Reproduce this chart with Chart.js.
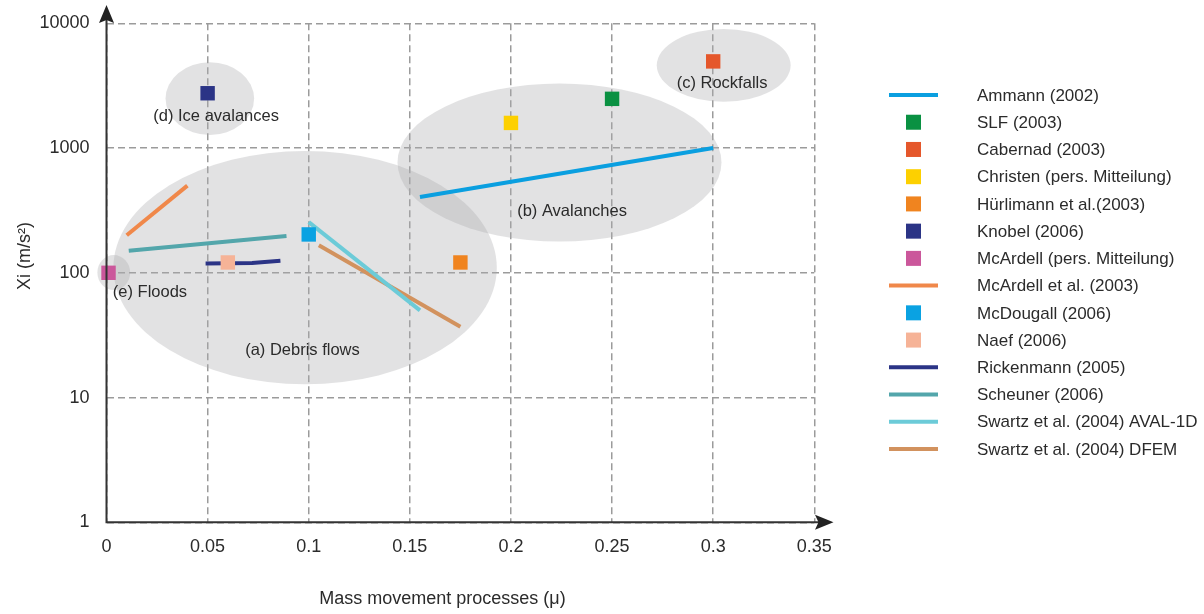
<!DOCTYPE html>
<html>
<head>
<meta charset="utf-8">
<script src="https://cdn.jsdelivr.net/npm/chart.js@4.4.1/dist/chart.umd.min.js"></script>
<style>
  html, body { margin: 0; padding: 0; background: #ffffff; }
  #wrap { width: 1204px; height: 614px; }
</style>
</head>
<body>
<div id="wrap"><canvas id="chart" width="1204" height="614"></canvas></div>
<script>
// ---- axis ticks ----
const muTicks = [0, 0.05, 0.1, 0.15, 0.2, 0.25, 0.3, 0.35];
const muTickLabels = ['0', '0.05', '0.1', '0.15', '0.2', '0.25', '0.3', '0.35'];
const xiTicks = [1, 10, 100, 1000, 10000];
const xiTickLabels = ['1', '10', '100', '1000', '10000'];

// ---- series: friction μ and turbulence coefficient Xi (m/s²) ----
const ammannMu = [0.155, 0.30],          ammannXi = [405, 1000];
const slfMu = [0.25],                    slfXi = [2480];
const cabernadMu = [0.30],               cabernadXi = [4950];
const christenMu = [0.20],               christenXi = [1590];
const huerlimannMu = [0.175],            huerlimannXi = [121];
const knobelMu = [0.05],                 knobelXi = [2750];
const mcardellPersMu = [0.001],          mcardellPersXi = [100];
const mcardellMu = [0.01, 0.04],         mcardellXi = [200, 500];
const mcdougallMu = [0.10],              mcdougallXi = [203];
const naefMu = [0.06],                   naefXi = [121];
const rickenmannMu = [0.049, 0.072, 0.086], rickenmannXi = [119, 120, 125];
const scheunerMu = [0.011, 0.089],       scheunerXi = [150, 197];
const swartzAvalMu = [0.10, 0.155],      swartzAvalXi = [255, 50];
const swartzDfemMu = [0.105, 0.175],     swartzDfemXi = [166, 37];

// ---- process domains (centre, half extent in μ and in decades of Xi) ----
const regionNames = ['(a) Debris flows', '(b) Avalanches', '(c) Rockfalls', '(d) Ice avalances', '(e) Floods'];
const regionMu = [0.0982, 0.224, 0.3052, 0.0511, 0.0036];
const regionXi = [110, 766, 4600, 2490, 100.5];
const regionHalfMu = [0.0948, 0.0801, 0.0331, 0.0219, 0.0081];
const regionHalfDecades = [0.935, 0.633, 0.291, 0.291, 0.14];
const regionLabelMu = [0.0969, 0.2302, 0.3044, 0.0542, 0.0215];
const regionLabelXi = [24, 309, 3305, 1807, 69.8];

const FONT = "'Liberation Sans', Arial, Helvetica, sans-serif";
const TEXT = '#2b2b2b';

const pts = (mu, xi) => mu.map((m, i) => ({ x: m, y: xi[i] }));
const lineSet = (label, mu, xi, color) => ({
  label, data: pts(mu, xi), showLine: true, borderColor: color, backgroundColor: color,
  borderWidth: 4, pointRadius: 0, pointHoverRadius: 0, borderCapStyle: 'butt', clip: false
});
const markSet = (label, mu, xi, color) => ({
  label, data: pts(mu, xi), showLine: false, pointStyle: 'rect', pointRadius: 10.2,
  pointHoverRadius: 10.2, borderWidth: 0, pointBorderWidth: 0,
  backgroundColor: color, borderColor: color, clip: false
});

const datasets = [
  lineSet('Ammann (2002)', ammannMu, ammannXi, '#0a9fe0'),
  markSet('SLF (2003)', slfMu, slfXi, '#0a9142'),
  markSet('Cabernad (2003)', cabernadMu, cabernadXi, '#e5572b'),
  markSet('Christen (pers. Mitteilung)', christenMu, christenXi, '#fdd000'),
  markSet('Hürlimann et al.(2003)', huerlimannMu, huerlimannXi, '#f0841f'),
  markSet('Knobel (2006)', knobelMu, knobelXi, '#2b3486'),
  markSet('McArdell (pers. Mitteilung)', mcardellPersMu, mcardellPersXi, '#cb579b'),
  lineSet('McArdell et al. (2003)', mcardellMu, mcardellXi, '#f0884a'),
  markSet('McDougall (2006)', mcdougallMu, mcdougallXi, '#0aa2e2'),
  markSet('Naef (2006)', naefMu, naefXi, '#f6b397'),
  lineSet('Rickenmann (2005)', rickenmannMu, rickenmannXi, '#2b3486'),
  lineSet('Scheuner (2006)', scheunerMu, scheunerXi, '#53a6ab'),
  lineSet('Swartz et al. (2004) AVAL-1D', swartzAvalMu, swartzAvalXi, '#6ccbd8'),
  lineSet('Swartz et al. (2004) DFEM', swartzDfemMu, swartzDfemXi, '#d2925e')
];

// domains, axis arrows, axis titles and the key
const decor = {
  id: 'decor',
  beforeDatasetsDraw(chart) {
    const { ctx, scales: { x, y } } = chart;
    ctx.save();
    ctx.fillStyle = 'rgba(171,173,176,0.35)';
    regionMu.forEach((m, i) => {
      const cx = x.getPixelForValue(m);
      const cy = y.getPixelForValue(regionXi[i]);
      const rx = x.getPixelForValue(m + regionHalfMu[i]) - cx;
      const ry = cy - y.getPixelForValue(regionXi[i] * Math.pow(10, regionHalfDecades[i]));
      ctx.beginPath();
      ctx.ellipse(cx, cy, rx, ry, 0, 0, Math.PI * 2);
      ctx.fill();
    });
    ctx.fillStyle = TEXT;
    ctx.font = '16.5px ' + FONT;
    ctx.textAlign = 'center';
    ctx.textBaseline = 'middle';
    regionNames.forEach((n, i) => {
      ctx.fillText(n, x.getPixelForValue(regionLabelMu[i]), y.getPixelForValue(regionLabelXi[i]));
    });
    ctx.restore();
  },
  afterDraw(chart) {
    const { ctx, chartArea: a } = chart;
    ctx.save();
    // axes with arrow heads
    ctx.strokeStyle = '#333333';
    ctx.fillStyle = '#222222';
    ctx.lineWidth = 2;
    ctx.beginPath();
    ctx.moveTo(a.left, a.bottom);
    ctx.lineTo(a.left, 14);
    ctx.moveTo(a.left - 1, a.bottom);
    ctx.lineTo(826, a.bottom);
    ctx.stroke();
    ctx.beginPath();
    ctx.moveTo(a.left, 5);
    ctx.lineTo(a.left + 7.5, 23);
    ctx.lineTo(a.left, 20);
    ctx.lineTo(a.left - 7.5, 23);
    ctx.closePath();
    ctx.fill();
    ctx.beginPath();
    ctx.moveTo(833.5, a.bottom);
    ctx.lineTo(815, a.bottom - 7.5);
    ctx.lineTo(818.5, a.bottom);
    ctx.lineTo(815, a.bottom + 7.5);
    ctx.closePath();
    ctx.fill();

    // axis titles
    ctx.fillStyle = TEXT;
    ctx.font = '18px ' + FONT;
    ctx.textAlign = 'center';
    ctx.textBaseline = 'middle';
    ctx.fillText('Mass movement processes (\u03bc)', 442.5, 599);
    ctx.save();
    ctx.translate(25, 256);
    ctx.rotate(-Math.PI / 2);
    ctx.fillText('Xi (m/s\u00b2)', 0, 0);
    ctx.restore();

    // key
    ctx.font = '17px ' + FONT;
    ctx.textAlign = 'left';
    chart.data.datasets.forEach((ds, i) => {
      const yy = 95 + i * 27.23;
      if (ds.showLine) {
        ctx.strokeStyle = ds.borderColor;
        ctx.lineWidth = 4;
        ctx.lineCap = 'butt';
        ctx.beginPath();
        ctx.moveTo(889, yy);
        ctx.lineTo(938, yy);
        ctx.stroke();
      } else {
        ctx.fillStyle = ds.backgroundColor;
        ctx.fillRect(906, yy - 7.5, 15, 15);
      }
      ctx.fillStyle = TEXT;
      ctx.fillText(ds.label, 977, yy + 1);
    });
    ctx.restore();
  }
};

// grid lines across the plot; invisible tick marks only space the labels
const gridStyle = (gap) => ({
  color: '#9b9b9b', lineWidth: 1.5, drawTicks: true, tickLength: gap,
  tickWidth: 0, tickColor: 'rgba(0,0,0,0)'
});

new Chart(document.getElementById('chart'), {
  type: 'scatter',
  data: { datasets },
  options: {
    responsive: false,
    animation: false,
    events: [],
    layout: { padding: { left: 0, top: 23.3, right: 389.7, bottom: 0 } },
    plugins: { legend: { display: false }, tooltip: { enabled: false } },
    scales: {
      x: {
        type: 'linear', min: 0, max: 0.35,
        afterBuildTicks: s => { s.ticks = muTicks.map(v => ({ value: v })); },
        afterFit: s => { s.height = 614 - 522.3; },
        ticks: {
          callback: (v, i) => muTickLabels[i], autoSkip: false, maxRotation: 0,
          font: { family: FONT, size: 18 }, color: TEXT, padding: 0
        },
        grid: gridStyle(14),
        border: { display: false, dash: [7, 4] }
      },
      y: {
        type: 'logarithmic', min: 1, max: 10000,
        afterBuildTicks: s => { s.ticks = xiTicks.map(v => ({ value: v })); },
        afterFit: s => { s.width = 106.5; },
        ticks: {
          callback: (v, i) => xiTickLabels[i], autoSkip: false,
          font: { family: FONT, size: 18 }, color: TEXT, padding: 0
        },
        grid: gridStyle(17),
        border: { display: false, dash: [7, 4] }
      }
    }
  },
  plugins: [decor]
});
</script>
</body>
</html>
